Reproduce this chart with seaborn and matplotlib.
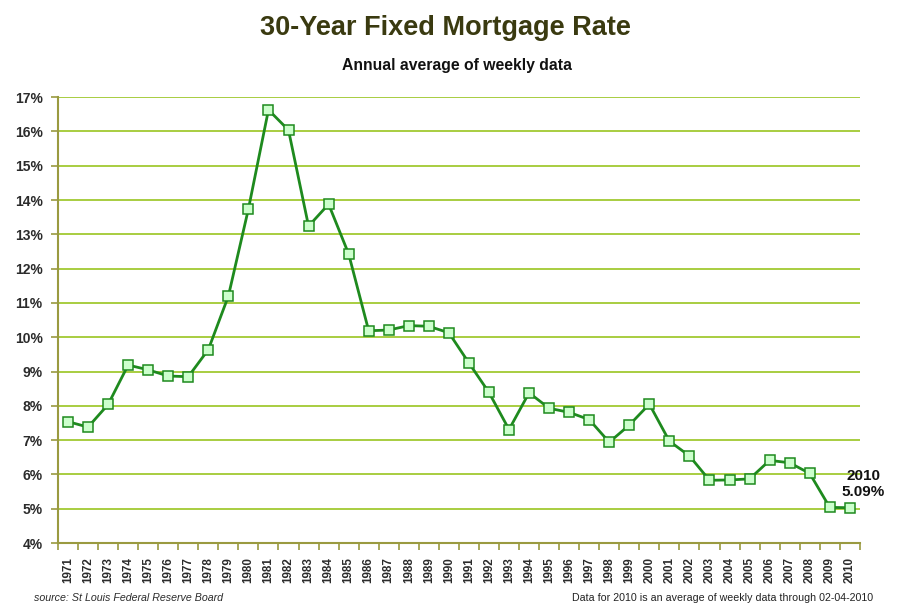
import numpy as np
import pandas as pd
import matplotlib
matplotlib.use("Agg")
import matplotlib.pyplot as plt
import seaborn as sns

# Annual average of weekly 30-year fixed mortgage rates (%)
years = list(range(1971, 2011))
rates = [7.54, 7.38, 8.04, 9.19, 9.05, 8.87, 8.85, 9.64, 11.20, 13.74,
         16.63, 16.04, 13.24, 13.88, 12.43, 10.19, 10.21, 10.34, 10.32, 10.13,
         9.25, 8.39, 7.31, 8.38, 7.93, 7.81, 7.60, 6.94, 7.44, 8.05,
         6.97, 6.54, 5.83, 5.84, 5.87, 6.41, 6.34, 6.03, 5.04, 5.03]
y_ticks = list(range(4, 18))
last_label = "2010\n5.09%"

df = pd.DataFrame({"year": years, "rate": rates})

sns.set_style("white")
plt.rcParams["font.family"] = ["Liberation Sans", "DejaVu Sans"]

fig = plt.figure(figsize=(9.03, 6.15), dpi=100)
ax = fig.add_axes([0.0642, 0.117, 0.888, 0.725])

grid_col = "#99c520"
axis_col = "#9a9a40"
txt_col = "#2b2b2b"

for v in y_ticks[1:]:
    ax.axhline(v, color=grid_col, lw=1.2, zorder=0)

sns.lineplot(data=df, x="year", y="rate", ax=ax, color="#1e8a1e", lw=2,
             marker="s", markersize=7, markerfacecolor="#ccffcc",
             markeredgecolor="#1e8a1e", markeredgewidth=1.1, zorder=3)

ax.set_xlim(years[0] - 0.5, years[-1] + 0.5)
ax.set_ylim(4, 17)
ax.set_yticks(y_ticks)
ax.set_yticklabels([f"{v}%" for v in y_ticks], fontsize=10,
                   fontweight="bold", color=txt_col)
ax.set_xticks(years)
ax.set_xticklabels([str(y) for y in years], rotation=90, fontsize=8.4,
                   fontweight="bold", color=txt_col)
ax.set_xticks([y - 0.5 for y in years] + [years[-1] + 0.5], minor=True)
ax.tick_params(axis="x", which="major", length=0, pad=10, bottom=True)
ax.tick_params(axis="x", which="minor", length=5, color=axis_col, width=1.2,
               direction="out", bottom=True)
ax.tick_params(axis="y", which="major", length=5, color=axis_col, width=1.2,
               direction="out", pad=6, left=True)
ax.set_xlabel("")
ax.set_ylabel("")

for s in ["top", "right"]:
    ax.spines[s].set_visible(False)
for s in ["left", "bottom"]:
    ax.spines[s].set_color(axis_col)
    ax.spines[s].set_linewidth(1.5)

ax.annotate(last_label, xy=(years[-1], rates[-1]), xytext=(9.5, 6),
            textcoords="offset points", ha="center", va="bottom",
            fontsize=11, fontweight="bold", color="#111111",
            linespacing=1.2, annotation_clip=False)

fig.text(0.493, 0.955, "30-Year Fixed Mortgage Rate", ha="center", va="center",
         fontsize=19.5, fontweight="bold", color="#3a3a10")
fig.text(0.506, 0.894, "Annual average of weekly data", ha="center",
         va="center", fontsize=11.3, fontweight="bold", color="#111111")
fig.text(0.038, 0.027, "source: St Louis Federal Reserve Board", ha="left",
         va="center", fontsize=7.7, style="italic", color=txt_col)
fig.text(0.967, 0.027, "Data for 2010 is an average of weekly data through 02-04-2010",
         ha="right", va="center", fontsize=7.7, color="#222222")

fig.savefig("out.png", dpi=100, facecolor="white")
